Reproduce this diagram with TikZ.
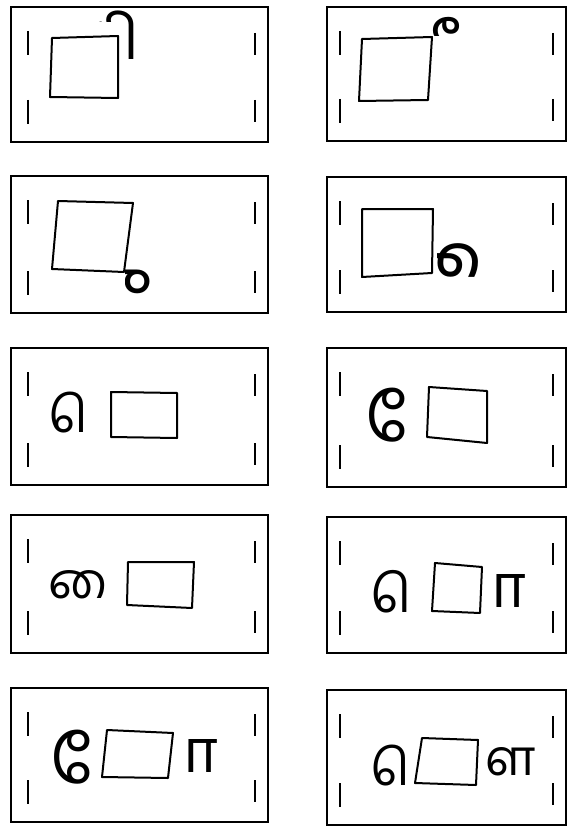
\documentclass[tikz,border=0pt]{standalone}
\usepackage{fontspec}
\newfontfamily\tam[Script=Tamil]{Hind Madurai}
\newcommand{\tamcard}[5]{%
  \draw[card] (#1,#2) rectangle (#3,#4);
  \draw[tickmark] (#1+#5,#2+24) -- (#1+#5,#2+48);
  \draw[tickmark] (#1+#5,#4-42) -- (#1+#5,#4-18);
  \draw[tickmark] (#3-13,#2+26) -- (#3-13,#2+48);
  \draw[tickmark] (#3-13,#4-42) -- (#3-13,#4-20);
}
% vowel sign after its placeholder (the dotted circle is clipped away)
\newcommand{\postsign}[5]{%
  \node[sign=#2,anchor=base east] (#1-f) at (#3,#4) {\phantom{◌#5}};
  \node[sign=#2,anchor=base west] (#1-d) at (#1-f.base west) {\phantom{◌}};
  \begin{scope}[even odd rule]
    \clip ([shift={(-100pt,-100pt)}]#1-f.south west) rectangle ([shift={(100pt,100pt)}]#1-f.north east)
      ([shift={(-1pt,-1pt)}]#1-d.south west) rectangle ([shift={(0.5pt,1pt)}]#1-d.north east);
    \node[sign=#2,anchor=base east] (#1) at (#3,#4) {◌#5};
  \end{scope}}
% vowel sign before its placeholder
\newcommand{\presign}[5]{%
  \node[sign=#2,anchor=base west] (#1-f) at (#3,#4) {\phantom{◌#5}};
  \node[sign=#2,anchor=base east] (#1-d) at (#1-f.base east) {\phantom{◌}};
  \begin{scope}[even odd rule]
    \clip ([shift={(-100pt,-100pt)}]#1-f.south west) rectangle ([shift={(100pt,100pt)}]#1-f.north east)
      ([shift={(-0.5pt,-1pt)}]#1-d.south west) rectangle ([shift={(1pt,1pt)}]#1-d.north east);
    \node[sign=#2,anchor=base west] (#1) at (#3,#4) {◌#5};
  \end{scope}}
\begin{document}
\begin{tikzpicture}[x=1pt,y=-1pt,
  card/.style={line width=2.8pt},
  tickmark/.style={line width=2.2pt},
  box/.style={line width=2pt,line join=round},
  sign/.style={inner sep=0pt,font=\tam\fontsize{#1}{#1}\selectfont}]
\useasboundingbox[fill=white] (0,0) rectangle (569,832);
% cards
\tamcard{11}{7}{268}{142}{17}
\tamcard{327}{7}{566}{141}{13}
\tamcard{11}{176}{268}{313}{17}
\tamcard{327}{177}{566}{312}{13}
\tamcard{11}{348}{268}{485}{17}
\tamcard{327}{348}{566}{487}{13}
\tamcard{11}{515}{268}{653}{17}
\tamcard{327}{517}{566}{653}{13}
\tamcard{11}{688}{268}{822}{17}
\tamcard{327}{690}{566}{825}{13}
% squares
\draw[box] (52,38) -- (118,36) -- (118,98) -- (50,97) -- cycle;
\draw[box] (362,39) -- (432,37) -- (428,100) -- (359,101) -- cycle;
\draw[box] (58,201) -- (133,203) -- (124,272) -- (52,269) -- cycle;
\draw[box] (362,209) -- (433,209) -- (432,273) -- (362,277) -- cycle;
\draw[box] (111,392) -- (177,393) -- (177,438) -- (111,437) -- cycle;
\draw[box] (429,387) -- (487,391) -- (487,443) -- (427,437) -- cycle;
\draw[box] (128,562) -- (194,562) -- (192,608) -- (127,605) -- cycle;
\draw[box] (435,563) -- (482,567) -- (480,613) -- (432,611) -- cycle;
\draw[box] (107,730) -- (173,733) -- (168,778) -- (102,777) -- cycle;
\draw[box] (422,738) -- (478,740) -- (476,785) -- (415,783) -- cycle;
% vowel signs
\postsign{i}{62}{140}{60}{ி}
\postsign{ii}{68}{456}{78}{ீ}
\postsign{u}{70}{124}{308}{ு}
\postsign{uu}{78}{436}{296}{ூ}
\presign{e1}{50}{48}{432}{ெ}
\presign{ee1}{66}{365}{441}{ே}
\presign{ai}{50}{48}{598}{ை}
\presign{e2}{52}{370}{612}{ெ}
\postsign{aa1}{60}{527}{607}{ா}
\presign{ee2}{66}{50}{783}{ே}
\postsign{aa2}{60}{219}{772}{ா}
\presign{e3}{50}{370}{785}{ெ}
\node[sign=50,anchor=base] (lla) at (511,775) {ள};
\end{tikzpicture}
\end{document}
